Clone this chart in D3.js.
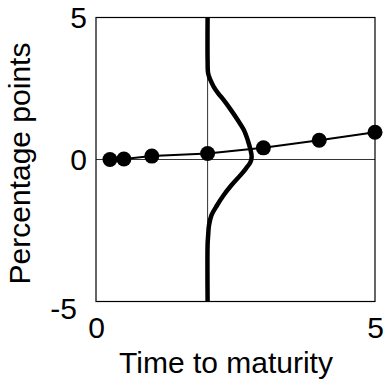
<!DOCTYPE html>
<html>
<head>
<meta charset="utf-8">
<script src="https://cdn.jsdelivr.net/npm/d3@7"></script>
<style>
  body { margin: 0; background: #fff; }
  svg text { font-family: 'Liberation Sans', Arial, sans-serif; fill: #000; }
</style>
</head>
<body>
<svg class="chart" width="384" height="380"></svg>
<script>
// yield curve points (maturity, percentage points)
const maturities = [0.25, 0.5, 1, 2, 3, 4, 5];
const yields = [0, 0.02, 0.12, 0.21, 0.41, 0.68, 0.96];

// distribution drawn sideways at maturity 2: level and horizontal width
const distAt = 2;
const distLevels = [5, 3.5, 3.03, 2.8, 2.56, 2.33, 2.09, 1.74, 1.39, 1.04, 0.68, 0.33, 0.1,
                    -0.08, -0.31, -0.55, -0.9, -1.25, -1.61, -1.96, -2.32, -2.67, -3.0, -5];
const distWidths = [0, 0, 0.01, 0.05, 0.11, 0.19, 0.29, 0.42, 0.54, 0.65, 0.72, 0.77, 0.79,
                    0.77, 0.69, 0.59, 0.43, 0.29, 0.17, 0.07, 0.025, 0.01, 0, 0];

const xTicks = [0, 5];
const yTicks = [-5, 0, 5];

const margin = {top: 17.5, right: 9, bottom: 78.5, left: 96},
      width = 384 - margin.left - margin.right,
      height = 380 - margin.top - margin.bottom;

const x = d3.scaleLinear().domain([0, 5]).range([0, width]);
const y = d3.scaleLinear().domain([-5, 5]).range([height, 0]);

const svg = d3.select('svg.chart').append('g')
              .attr('transform', `translate(${margin.left}, ${margin.top})`);

// reference lines
svg.append('line')
  .attr('x1', 0).attr('x2', width)
  .attr('y1', y(0)).attr('y2', y(0))
  .attr('stroke', '#333').attr('stroke-width', 1);

svg.append('line')
  .attr('x1', x(distAt)).attr('x2', x(distAt))
  .attr('y1', 0).attr('y2', height)
  .attr('stroke', '#333').attr('stroke-width', 1);

// frame
svg.append('rect')
  .attr('x', 0).attr('y', 0)
  .attr('width', width).attr('height', height)
  .attr('fill', 'none').attr('stroke', '#000').attr('stroke-width', 1.2);

// axes, labels only
const xAxis = svg.append('g')
  .attr('transform', `translate(0, ${height})`)
  .call(d3.axisBottom(x).tickValues(xTicks).tickSize(0).tickPadding(15).tickFormat(d3.format('d')));
xAxis.select('.domain').remove();
xAxis.selectAll('text').style('font-size', '30px');

const yAxis = svg.append('g')
  .call(d3.axisLeft(y).tickValues(yTicks).tickSize(0).tickPadding(9).tickFormat(d => d < 0 ? '-' + Math.abs(d) : d));
yAxis.select('.domain').remove();
yAxis.selectAll('text').style('font-size', '30px');
yAxis.selectAll('.tick').filter(d => d === -5).select('text')
  .attr('x', -19).attr('dy', '0.55em');

// sideways distribution
const distData = distLevels.map((v, i) => ({level: v, w: distWidths[i]}));
svg.append('path')
  .datum(distData)
  .attr('fill', 'none')
  .attr('stroke', '#000')
  .attr('stroke-width', 4.5)
  .attr('d', d3.line()
    .x(d => x(distAt + d.w))
    .y(d => y(d.level))
    .curve(d3.curveCatmullRom));

// yield line and dots
const pts = maturities.map((m, i) => ({m: m, v: yields[i]}));
svg.append('path')
  .datum(pts)
  .attr('fill', 'none')
  .attr('stroke', '#000')
  .attr('stroke-width', 2)
  .attr('d', d3.line().x(d => x(d.m)).y(d => y(d.v)));

svg.selectAll('circle')
  .data(pts)
  .enter()
  .append('circle')
    .attr('cx', d => x(d.m))
    .attr('cy', d => y(d.v))
    .attr('r', 7.5)
    .attr('fill', '#000');

// titles
d3.select('svg.chart').append('text')
  .text('Time to maturity')
  .attr('x', margin.left + x(2.33))
  .attr('y', 373)
  .style('font-size', '30px')
  .style('text-anchor', 'middle');

d3.select('svg.chart').append('text')
  .text('Percentage points')
  .attr('transform', 'translate(30, 163.5) rotate(-90)')
  .style('font-size', '30px')
  .style('text-anchor', 'middle');
</script>
</body>
</html>
